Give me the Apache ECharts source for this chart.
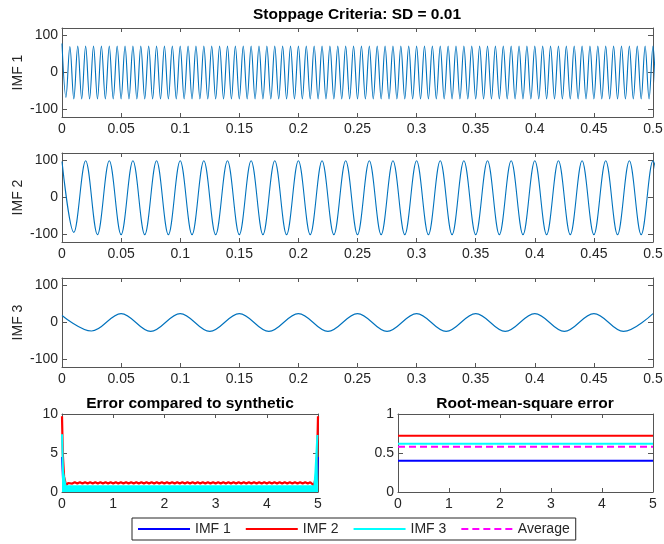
<!DOCTYPE html>
<html>
<head>
<meta charset="utf-8">
<script src="https://cdn.jsdelivr.net/npm/echarts@6/dist/echarts.min.js"></script>
<style>
  html, body { margin: 0; padding: 0; background: #fff; }
  #chart { width: 664px; height: 544px; }
</style>
</head>
<body>
<div id="chart"></div>
<script>
// --- data ---
// IMF traces: successive extrema (peak / trough) values, evenly spaced in time
const imfTimeStart = 0;
const imf1Spacing = 0.5 / 150;
const imf1Extrema = [
  78, -67, 70, -71,
  71, -71, 71, -71, 71, -71, 71, -71, 71, -71, 71, -71, 71, -71, 71, -71, 71, -71, 71, -71, 71, -71, 71, -71, 71, -71, 71, -71, 71, -71,
  71, -71, 71, -71, 71, -71, 71, -71, 71, -71, 71, -71, 71, -71, 71, -71, 71, -71, 71, -71, 71, -71, 71, -71, 71, -71, 71, -71, 71, -71,
  71, -71, 71, -71, 71, -71, 71, -71, 71, -71, 71, -71, 71, -71, 71, -71, 71, -71, 71, -71, 71, -71, 71, -71, 71, -71, 71, -71, 71, -71,
  71, -71, 71, -71, 71, -71, 71, -71, 71, -71, 71, -71, 71, -71, 71, -71, 71, -71, 71, -71, 71, -71, 71, -71, 71, -71, 71, -71, 71, -71,
  71, -71, 71, -71, 71, -71, 71, -71, 71, -71, 71, -71, 71, -71, 71, -71, 71, -71, 71, -71, 71, -71, 71, -71, 71, -71, 71, -71, 71, -71,
  71, -71, 71, -71, 71, -71, 71, -71, 71, -71, 71, -71, 71, -71, 71, -71, 71, -71, 71, -71, 71, -71, 71, -71, 71, -71, 71, -71, 71, -71,
  71, -71, 71, -71, 71, -71, 71, -71, 71, -71, 71, -71, 71, -71, 71, -71, 71, -71, 71, -71, 71, -71, 71, -71, 71, -71, 71, -71, 71, -71,
  71, -71, 71, -71, 71, -71,
  72
];
const imf2Spacing = 0.01;
const imf2Extrema = [
  97, -94, 99, -100,
  99, -100, 99, -100, 99, -100, 99, -100, 99, -100, 99, -100, 99, -100, 99, -100, 99, -100, 99, -100,
  99, -100, 99, -100, 99, -100, 99, -100, 99, -100, 99, -100, 99, -100, 99, -100, 99, -100, 99, -100,
  99, -100, 99, -100, 99, -100, 99, -100, 99, -100, 99, -100,
  99
];
const imf3Spacing = 0.025;
const imf3Extrema = [
  19, -23,
  24, -24, 24, -24, 24, -24, 24, -24, 24, -24, 24, -24, 24, -24, 24, -24, 24, -24,
  24
];

// error compared to synthetic (x = 0..5)
const errBlue = [[0, 4.5], [0.02, 1.6], [0.06, 0.45], [4.94, 0.45], [4.98, 1.6], [5, 4.5]];
const errRedLeft = [[0, 9.7], [0.015, 5.0], [0.04, 2.0], [0.08, 0.85], [0.12, 1.15]];
const errRedRippleStart = 0.15;
const errRedRippleStep = 0.05;
const errRedRipple = [
  1.25, 1.08, 1.25, 1.08, 1.25, 1.08, 1.25, 1.08, 1.25, 1.08, 1.25, 1.08, 1.25, 1.08, 1.25, 1.08, 1.25, 1.08, 1.25, 1.08,
  1.25, 1.08, 1.25, 1.08, 1.25, 1.08, 1.25, 1.08, 1.25, 1.08, 1.25, 1.08, 1.25, 1.08, 1.25, 1.08, 1.25, 1.08, 1.25, 1.08,
  1.25, 1.08, 1.25, 1.08, 1.25, 1.08, 1.25, 1.08, 1.25, 1.08, 1.25, 1.08, 1.25, 1.08, 1.25, 1.08, 1.25, 1.08, 1.25, 1.08,
  1.25, 1.08, 1.25, 1.08, 1.25, 1.08, 1.25, 1.08, 1.25, 1.08, 1.25, 1.08, 1.25, 1.08, 1.25, 1.08, 1.25, 1.08, 1.25, 1.08,
  1.25, 1.08, 1.25, 1.08, 1.25, 1.08, 1.25, 1.08, 1.25, 1.08, 1.25, 1.08, 1.25, 1.08, 1.25
];
const errRedRight = [[4.88, 1.15], [4.92, 0.85], [4.96, 2.0], [4.985, 5.0], [5, 9.7]];
const errCyan = [[0, 7.4], [0.012, 7.4], [0.02, 2.6], [0.05, 2.6], [0.07, 0.75],
                 [4.93, 0.75], [4.95, 2.6], [4.98, 2.6], [4.988, 7.3], [5, 7.3]];

// root-mean-square error
const rmsX = [0, 5];
const rmsImf1 = [0.40, 0.40];
const rmsImf2 = [0.72, 0.72];
const rmsImf3 = [0.62, 0.62];
const rmsAvg = [0.58, 0.58];

const imfTicksX = { min: 0, max: 0.5, interval: 0.05 };
const imfTicksY = [-100, 0, 100];
const legendNames = ["IMF 1", "IMF 2", "IMF 3", "Average"];

// --- helpers ---
const FONT = "Liberation Sans, Arial, Helvetica, sans-serif";
const AXIS = "#555555";
const TEXT = "#262626";
const C_IMF = "#0072bd";

const extremaToPoints = (vals, spacing) => vals.map((v, i) => [imfTimeStart + i * spacing, v]);

const grids = [
  { left: 62, top: 28, width: 591, height: 89 },
  { left: 62, top: 153, width: 591, height: 89 },
  { left: 62, top: 278, width: 591, height: 89 },
  { left: 62, top: 414, width: 256, height: 78 },
  { left: 398, top: 414, width: 255, height: 78 },
].map((g) => ({ ...g, containLabel: false, outerBoundsMode: "none" }));

const xAxes = [];
const yAxes = [];
function addAxes(g, xs, ys, yName) {
  const lineCfg = { show: true, onZero: false, lineStyle: { color: AXIS, width: 1 } };
  const label = { color: TEXT, fontSize: 14, fontFamily: FONT };
  xAxes.push({
    type: "value", gridIndex: g, position: "bottom", ...xs,
    axisLine: lineCfg, splitLine: { show: false },
    axisTick: { inside: true, length: 4, lineStyle: { color: AXIS } },
    axisLabel: { ...label, margin: 5, showMinLabel: true, showMaxLabel: true },
  });
  xAxes.push({
    type: "value", gridIndex: g, position: "top", ...xs,
    axisLine: lineCfg, splitLine: { show: false },
    axisTick: { inside: true, length: 4, lineStyle: { color: AXIS } },
    axisLabel: { show: false },
  });
  const yBase = { type: "value", gridIndex: g, min: ys.min, max: ys.max, splitLine: { show: false }, axisLine: lineCfg };
  const tickCfg = { inside: true, length: 5, lineStyle: { color: AXIS } };
  if (ys.custom) {
    tickCfg.customValues = ys.custom;
  } else {
    yBase.interval = ys.interval;
  }
  yAxes.push({
    ...yBase, position: "left",
    axisTick: tickCfg,
    axisLabel: ys.custom
      ? { ...label, margin: 4, customValues: ys.custom }
      : { ...label, margin: 4 },
    name: yName || "",
    nameLocation: "middle",
    nameGap: 37,
    nameMoveOverlap: false,
    nameTextStyle: { color: TEXT, fontSize: 14, fontFamily: FONT },
  });
  yAxes.push({
    ...yBase, position: "right",
    axisTick: tickCfg,
    axisLabel: { show: false },
  });
}

addAxes(0, imfTicksX, { min: -120, max: 120, custom: imfTicksY }, "IMF 1");
addAxes(1, imfTicksX, { min: -120, max: 120, custom: imfTicksY }, "IMF 2");
addAxes(2, imfTicksX, { min: -120, max: 120, custom: imfTicksY }, "IMF 3");
addAxes(3, { min: 0, max: 5, interval: 1 }, { min: 0, max: 10, interval: 5 });
addAxes(4, { min: 0, max: 5, interval: 1 }, { min: 0, max: 1, interval: 0.5 });

// axis index for grid g: bottom x = 2g, left y = 2g
const imfLine = (g, pts) => ({
  type: "line", xAxisIndex: 2 * g, yAxisIndex: 2 * g, data: pts,
  symbol: "none", smooth: 0.36, color: C_IMF,
  lineStyle: { color: C_IMF, width: 1.1 },
});

const errRed = errRedLeft
  .concat(errRedRipple.map((v, i) => [errRedRippleStart + i * errRedRippleStep, v]))
  .concat(errRedRight);

const rmsLine = (name, vals, color, type) => ({
  name, type: "line", xAxisIndex: 8, yAxisIndex: 8, symbol: "none", color,
  data: rmsX.map((x, i) => [x, vals[i]]),
  lineStyle: { color, width: 2, type: type || "solid" },
});

const solidIcon = "path://M0,0H52V2H0Z";
const dashIcon = "path://M0,0H7V2H0Z M11,0H18V2H11Z M22,0H29V2H22Z M33,0H40V2H33Z M44,0H51V2H44Z";

const chart = echarts.init(document.getElementById("chart"));
chart.setOption({
  animation: false,
  backgroundColor: "#ffffff",
  title: [
    { text: "Stoppage Criteria: SD = 0.01", left: 357, top: 7, textAlign: "center", padding: 0,
      textStyle: { fontSize: 15.5, fontWeight: "bold", color: "#000", fontFamily: FONT } },
    { text: "Error compared to synthetic", left: 190, top: 396, textAlign: "center", padding: 0,
      textStyle: { fontSize: 15.5, fontWeight: "bold", color: "#000", fontFamily: FONT } },
    { text: "Root-mean-square error", left: 525, top: 396, textAlign: "center", padding: 0,
      textStyle: { fontSize: 15.5, fontWeight: "bold", color: "#000", fontFamily: FONT } },
  ],
  legend: {
    left: 132, top: 518,
    orient: "horizontal",
    padding: [4, 6],
    itemWidth: 52, itemHeight: 2, itemGap: 15,
    borderColor: "#262626", borderWidth: 1,
    backgroundColor: "#fff",
    textStyle: { color: TEXT, fontSize: 14, fontFamily: FONT },
    data: legendNames.map((n) => ({ name: n, icon: n === "Average" ? dashIcon : solidIcon })),
  },
  grid: grids,
  xAxis: xAxes,
  yAxis: yAxes,
  series: [
    imfLine(0, extremaToPoints(imf1Extrema, imf1Spacing)),
    imfLine(1, extremaToPoints(imf2Extrema, imf2Spacing)),
    imfLine(2, extremaToPoints(imf3Extrema, imf3Spacing)),
    { name: "IMF 1", type: "line", xAxisIndex: 6, yAxisIndex: 6, symbol: "none", color: "#0000ff", z: 2,
      data: errBlue, lineStyle: { color: "#0000ff", width: 2 } },
    { name: "IMF 2", type: "line", xAxisIndex: 6, yAxisIndex: 6, symbol: "none", color: "#ff0000", z: 3,
      data: errRed, lineStyle: { color: "#ff0000", width: 2.2 } },
    { name: "IMF 3", type: "line", xAxisIndex: 6, yAxisIndex: 6, symbol: "none", color: "#00ffff", z: 4,
      data: errCyan, lineStyle: { color: "#00ffff", width: 2 },
      areaStyle: { color: "#00ffff", opacity: 1 } },
    rmsLine("IMF 1", rmsImf1, "#0000ff"),
    rmsLine("IMF 2", rmsImf2, "#ff0000"),
    rmsLine("IMF 3", rmsImf3, "#00ffff"),
    rmsLine("Average", rmsAvg, "#ff00ff", [7, 4]),
  ],
});
</script>
</body>
</html>
